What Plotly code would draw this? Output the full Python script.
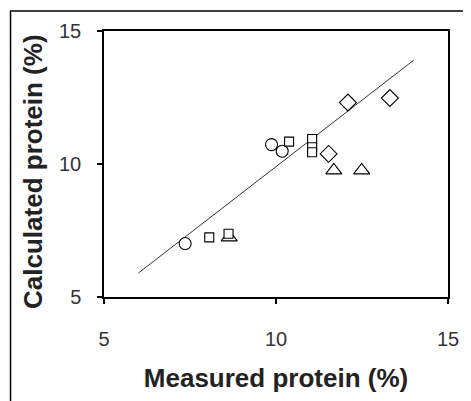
import plotly.graph_objects as go

circle_x = [7.36, 9.87, 10.18]
circle_y = [7.01, 10.73, 10.48]
square_x = [8.06, 8.62, 10.38, 11.05, 11.05, 11.05]
square_y = [7.24, 7.38, 10.84, 10.94, 10.63, 10.44]
triangle_x = [8.64, 11.68, 12.49]
triangle_y = [7.24, 9.76, 9.76]
diamond_x = [12.09, 13.31, 11.53]
diamond_y = [12.31, 12.48, 10.38]
line_x = [6.0, 14.0]
line_y = [5.9, 13.9]
ticks = [5, 10, 15]

FONT = "Liberation Sans, Arial"

fig = go.Figure()
fig.add_trace(go.Scatter(x=line_x, y=line_y, mode="lines",
                         line=dict(color="#333", width=1)))

def add(xs, ys, sym, size):
    fig.add_trace(go.Scatter(x=xs, y=ys, mode="markers",
                             marker=dict(symbol=sym, size=size, color="white",
                                         line=dict(color="black", width=1.1))))

add(circle_x, circle_y, "circle", 12)
add(diamond_x, diamond_y, "diamond", 13)
add(triangle_x, triangle_y, "triangle-up", 14)
add(square_x, square_y, "square", 9)

axis_common = dict(range=[5, 15], tickvals=ticks, showgrid=False, zeroline=False,
                   showline=True, linecolor="black", linewidth=1.5, mirror=True,
                   ticks="outside", ticklen=5, tickcolor="black", tickwidth=1.5,
                   tickfont=dict(family=FONT, size=20, color="#333"))

fig.update_layout(
    width=463, height=393,
    margin=dict(l=96, r=21, t=22, b=104),
    paper_bgcolor="white", plot_bgcolor="white",
    showlegend=False,
    xaxis=dict(**axis_common, ticklabelstandoff=18,
               title=dict(text="Measured protein (%)", standoff=20,
                          font=dict(family=FONT, size=26, color="#222", weight="bold"))),
    yaxis=dict(**axis_common, ticklabelstandoff=12),
    annotations=[dict(text="<b>Calculated protein (%)</b>", textangle=-90,
                      xref="paper", yref="paper", x=-0.205, y=0.472,
                      xanchor="center", yanchor="middle", showarrow=False,
                      font=dict(family=FONT, size=26, color="#222"))],
    shapes=[dict(type="rect", xref="paper", yref="paper",
                 x0=-0.2717, x1=1.07, y0=-0.45, y1=1.0749,
                 line=dict(color="black", width=1.5), layer="below")],
)

fig.write_html("out.html")
